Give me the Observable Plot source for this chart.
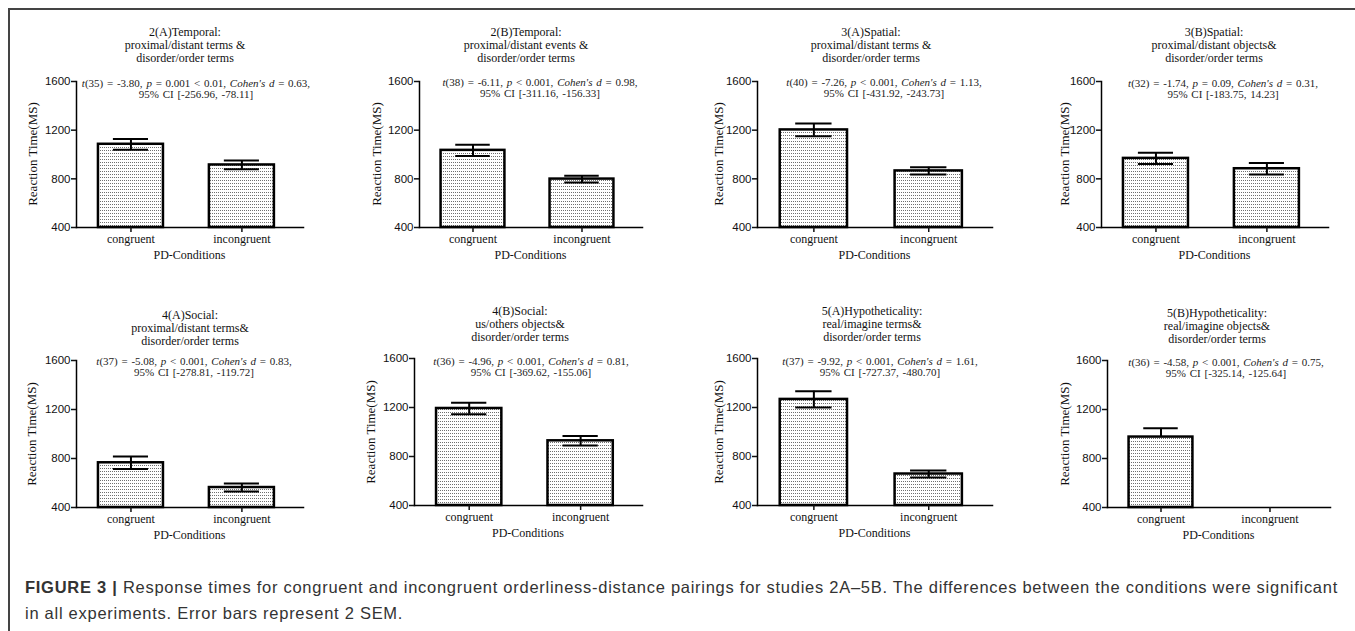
<!DOCTYPE html>
<html><head><meta charset="utf-8">
<script src="https://cdn.jsdelivr.net/npm/d3@7"></script>
<script src="https://cdn.jsdelivr.net/npm/@observablehq/plot@0.6"></script>
<style>
html,body{margin:0;padding:0;background:#fff;}
#fig{position:relative;width:1355px;height:631px;overflow:hidden;font-family:"Liberation Serif","Times New Roman",serif;color:#111;}
.abs{position:absolute;white-space:nowrap;}
.title{font-size:12px;line-height:13px;text-align:center;transform:translateX(-50%);}
.stat{font-size:11px;line-height:11px;word-spacing:1px;text-align:center;transform:translateX(-50%);color:#222;}
.ylab{font-size:13px;transform:translate(-50%,-50%) rotate(-90deg);}
.xlab{font-size:12px;transform:translate(-50%,-50%);}
.cap{font-family:"Liberation Sans",Arial,sans-serif;font-size:16.5px;color:#333;left:25px;transform:translateY(-50%);}
.panel{position:absolute;overflow:visible;}
</style>
</head><body>
<div id="fig">
<svg width="0" height="0" style="position:absolute">
  <defs>
    <pattern id="dots" width="2" height="3" patternUnits="userSpaceOnUse">
      <rect width="2" height="3" fill="#ffffff"></rect>
      <rect x="0" y="1" width="1" height="1" fill="#6f6f6f"></rect>
    </pattern>
  </defs>
</svg>
</div>
<script>
// ---------------- data ----------------
const conditions = ["congruent", "incongruent"];
const titleLine1 = ["2(A)Temporal:", "2(B)Temporal:", "3(A)Spatial:", "3(B)Spatial:", "4(A)Social:", "4(B)Social:", "5(A)Hypotheticality:", "5(B)Hypotheticality:"];
const titleLine2 = ["proximal/distant terms &", "proximal/distant events &", "proximal/distant terms &", "proximal/distant objects&", "proximal/distant terms&", "us/others objects&", "real/imagine terms&", "real/imagine objects&"];
const titleLine3 = ["disorder/order terms", "disorder/order terms", "disorder/order terms", "disorder/order terms", "disorder/order terms", "disorder/order terms", "disorder/order terms", "disorder/order terms"];
const tDf = [35, 38, 40, 32, 37, 36, 37, 36];
const tValue = ["-3.80", "-6.11", "-7.26", "-1.74", "-5.08", "-4.96", "-9.92", "-4.58"];
const pText = ["= 0.001 < 0.01", "< 0.001", "< 0.001", "= 0.09", "< 0.001", "< 0.001", "< 0.001", "< 0.001"];
const cohenD = ["0.63", "0.98", "1.13", "0.31", "0.83", "0.81", "1.61", "0.75"];
const ciText = ["[-256.96, -78.11]", "[-311.16, -156.33]", "[-431.92, -243.73]", "[-183.75, 14.23]", "[-278.81, -119.72]", "[-369.62, -155.06]", "[-727.37, -480.70]", "[-325.14, -125.64]"];
const congruentMean = [1084, 1034, 1202, 968, 765, 1192, 1266, 975];
const congruentErr = [44, 46, 53, 46, 51, 47, 67, 71];
const incongruentMean = [914, 798, 865, 883, 563, 928, 657, null];
const incongruentErr = [36, 28, 30, 48, 32, 39, 28, null];
const lowerErrShown = [true, true, true, true, true, true, true, false];
const yTicks = [400, 800, 1200, 1600];
const yLabel = "Reaction Time(MS)";
const xLabel = "PD-Conditions";
const captionBold = "FIGURE 3 |";
const captionLine1 = " Response times for congruent and incongruent orderliness-distance pairings for studies 2A\u20135B. The differences between the conditions were significant";
const captionLine2 = "in all experiments. Error bars represent 2 SEM.";

// ---------------- layout (page pixels) ----------------
const layout = [
  {L: 76,   R: 303,  T: 81,  B: 227, tx: 185,  ty: 32,  sx: 196,  sy: 83,  yx: 33},
  {L: 419,  R: 642,  T: 81,  B: 227, tx: 526,  ty: 32,  sx: 540,  sy: 82,  yx: 377},
  {L: 757,  R: 992,  T: 81,  B: 227, tx: 871,  ty: 32,  sx: 884,  sy: 82,  yx: 719},
  {L: 1101, R: 1328, T: 81,  B: 227, tx: 1214, ty: 32,  sx: 1223, sy: 83,  yx: 1065},
  {L: 76,   R: 303,  T: 360, B: 507, tx: 190,  ty: 315, sx: 194,  sy: 361, yx: 32},
  {L: 414,  R: 642,  T: 358, B: 505, tx: 520,  ty: 311, sx: 531,  sy: 361, yx: 371},
  {L: 757,  R: 992,  T: 358, B: 505, tx: 872,  ty: 311, sx: 880,  sy: 361, yx: 719},
  {L: 1107, R: 1330, T: 360, B: 507, tx: 1217, ty: 313, sx: 1226, sy: 362, yx: 1065}
];

const fig = document.getElementById("fig");
function addDiv(cls, html, left, top) {
  const d = document.createElement("div");
  d.className = "abs " + cls;
  d.innerHTML = html;
  d.style.left = left + "px";
  d.style.top = top + "px";
  fig.appendChild(d);
  return d;
}

// frame lines
const topLine = document.createElement("div");
topLine.style.cssText = "position:absolute;left:8px;top:8px;width:1347px;height:1.5px;background:#444;";
fig.appendChild(topLine);
const leftLine = document.createElement("div");
leftLine.style.cssText = "position:absolute;left:8px;top:8px;width:1.5px;height:623px;background:#444;";
fig.appendChild(leftLine);

const mL = 60, mR = 20, mT = 40, mB = 40;
const yMin = 400, yMax = 1600;

layout.forEach((g, i) => {
  const rows = [];
  const means = [congruentMean[i], incongruentMean[i]];
  const errs = [congruentErr[i], incongruentErr[i]];
  conditions.forEach((c, k) => {
    if (means[k] == null) return;
    rows.push({
      cond: c,
      base: yMin,
      mean: means[k],
      hi: means[k] + errs[k],
      lo: lowerErrShown[i] ? means[k] - errs[k] : means[k],
      showLo: lowerErrShown[i]
    });
  });
  const innerW = g.R - g.L;
  const step = innerW / (2 - 0.414 + 2 * 0.23);
  const bw = step * (1 - 0.414);
  const capInset = bw * 0.23;

  const chart = Plot.plot({
    width: innerW + mL + mR,
    height: (g.B - g.T) + mT + mB,
    marginLeft: mL, marginRight: mR, marginTop: mT, marginBottom: mB,
    style: {background: "transparent", overflow: "visible"},
    x: {domain: conditions, type: "band", paddingInner: 0.414, paddingOuter: 0.23, align: 0.43, round: false},
    y: {domain: [yMin, yMax]},
    marks: [
      Plot.barY(rows, {x: "cond", y1: "base", y2: "mean", fill: "url(#dots)", stroke: "#000", strokeWidth: 2.5}),
      Plot.ruleX(rows, {x: "cond", y1: "lo", y2: "hi", stroke: "#000", strokeWidth: 2}),
      Plot.tickY(rows, {x: "cond", y: "hi", stroke: "#000", strokeWidth: 2, insetLeft: capInset, insetRight: capInset}),
      Plot.tickY(rows.filter(d => d.showLo), {x: "cond", y: "lo", stroke: "#000", strokeWidth: 2, insetLeft: capInset, insetRight: capInset}),
      Plot.frame({anchor: "left", stroke: "#000", strokeWidth: 1.5}),
      Plot.frame({anchor: "bottom", stroke: "#000", strokeWidth: 1.5}),
      Plot.axisY({ticks: yTicks, tickFormat: d3.format("d"), tickSize: 5, tickPadding: 1, strokeWidth: 1.5,
        fontSize: 11.5, fontFamily: "Liberation Sans, Arial, sans-serif", color: "#111", label: null}),
      Plot.axisX({tickSize: 5, tickPadding: 2, strokeWidth: 1.5, fontSize: 12,
        fontFamily: "Liberation Serif, Times New Roman, serif", color: "#111", label: null})
    ]
  });
  chart.classList.add("panel");
  chart.style.left = (g.L - mL) + "px";
  chart.style.top = (g.T - mT) + "px";
  fig.appendChild(chart);

  addDiv("title", titleLine1[i] + "<br>" + titleLine2[i] + "<br>" + titleLine3[i], g.tx, g.ty - 6.5);
  addDiv("stat", "<i>t</i>(" + tDf[i] + ") = " + tValue[i] + ", <i>p</i> " + pText[i].replace("<", "&lt;") +
    ", <i>Cohen's d</i> = " + cohenD[i] + ",<br>95% CI " + ciText[i], g.sx, g.sy - 5.5);
  addDiv("ylab", yLabel, g.yx, (g.T + g.B) / 2);
  addDiv("xlab", xLabel, (g.L + g.R) / 2, g.B + 28);
});

// caption
const c1 = addDiv("cap", "<b>" + captionBold + "</b>" + captionLine1, 25, 587);
const c2 = addDiv("cap", captionLine2, 25, 613);
const targetW = 1313;
const w1 = c1.getBoundingClientRect().width;
const n1 = (captionBold + captionLine1).length;
const ls = (targetW - w1) / n1;
c1.style.letterSpacing = ls + "px";
c2.style.letterSpacing = ls + "px";
</script>
</body></html>
